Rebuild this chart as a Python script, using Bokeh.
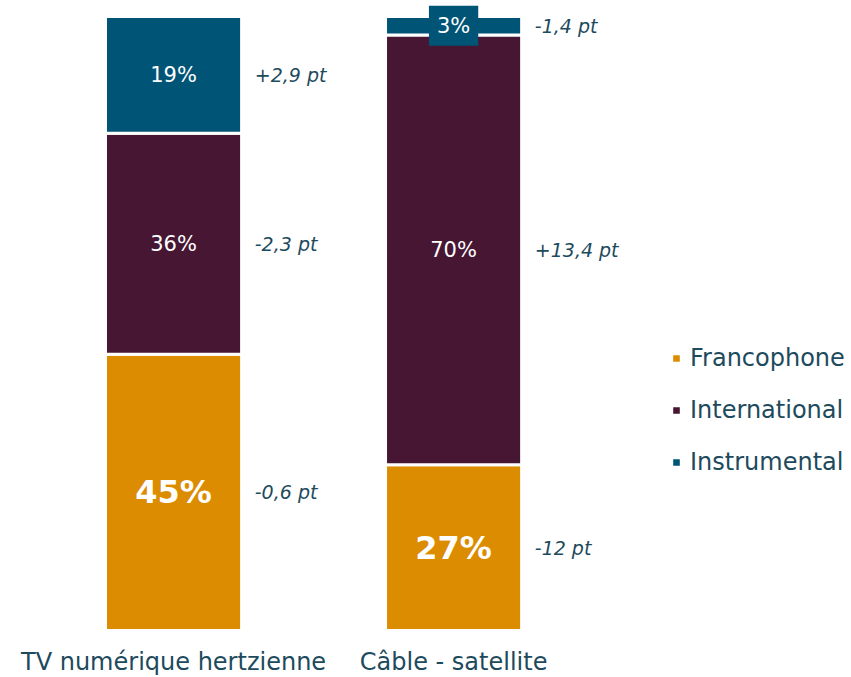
from bokeh.plotting import figure
from bokeh.models import Range1d, ColumnDataSource, Legend, LegendItem
from bokeh.core.properties import value
from bokeh.embed import file_html
from bokeh.resources import INLINE

categories = ["TV numérique hertzienne", "Câble - satellite"]
series = ["Francophone", "International", "Instrumental"]
francophone = [45, 27]
international = [36, 70]
instrumental = [19, 3]
evo_francophone = ["-0,6 pt", "-12 pt"]
evo_international = ["-2,3 pt", "+13,4 pt"]
evo_instrumental = ["+2,9 pt", "-1,4 pt"]
colors = ["#DC8C00", "#461632", "#005476"]

TEXT = "#1D4A5C"
FONT = "DejaVu Sans"

xs = list(range(len(categories)))
data = {"x": xs, "Francophone": francophone, "International": international,
        "Instrumental": instrumental}
src = ColumnDataSource(data)

p = figure(width=851, height=677, output_backend="svg", toolbar_location=None,
           x_range=Range1d(-0.618, 2.421), y_range=Range1d(-7.65, 102.61),
           min_border=0)
p.axis.visible = False
p.grid.visible = False
p.outline_line_color = None

bar_w = 0.486
rs = p.vbar_stack(series, x="x", width=bar_w, source=src, fill_color=colors,
                  line_color="white", line_width=3)

values = [francophone, international, instrumental]
evos = [evo_francophone, evo_international, evo_instrumental]

norm = dict(x=[], y=[], t=[])
bold = dict(x=[], y=[], t=[])
small = dict(x=[], y=[], t=[])
ev = dict(x=[], y=[], t=[])
for i in xs:
    base = 0
    for k, s in enumerate(series):
        v = values[k][i]
        mid = base + v / 2
        base += v
        target = bold if k == 0 else (small if v < 5 else norm)
        target["x"].append(i)
        target["y"].append(mid)
        target["t"].append(f"{v}%")
        ev["x"].append(i + 0.29)
        ev["y"].append(mid)
        ev["t"].append(evos[k][i])

p.text(x="x", y="y", text="t", source=ColumnDataSource(norm), text_align="center",
       text_baseline="middle", text_color="white", text_font=value(FONT),
       text_font_size="21px")
p.text(x="x", y="y", text="t", source=ColumnDataSource(bold), text_align="center",
       text_baseline="middle", text_color="white", text_font=value(FONT),
       text_font_size="32px", text_font_style="bold")
p.text(x="x", y="y", text="t", source=ColumnDataSource(small), text_align="center",
       text_baseline="middle", text_color="white", text_font=value(FONT),
       text_font_size="21px", background_fill_color=colors[2], padding=8)
p.text(x="x", y="y", text="t", source=ColumnDataSource(ev), text_align="left",
       text_baseline="middle", text_color=TEXT, text_font=value(FONT),
       text_font_size="19px", text_font_style="italic")

p.text(x=xs, y=[-5.2] * len(xs), text=categories, text_align="center",
       text_baseline="alphabetic", text_color=TEXT, text_font=value(FONT),
       text_font_size="24px")

legend = Legend(items=[LegendItem(label=s, renderers=[r]) for s, r in zip(series, rs)],
                location=(670, 201), orientation="vertical",
                border_line_color=None, background_fill_alpha=0,
                label_text_font=FONT, label_text_font_size="24px",
                label_text_color=TEXT, glyph_width=12, glyph_height=12,
                spacing=24, padding=0, margin=0, label_standoff=8)
p.add_layout(legend, "center")

open("out.html", "w").write(file_html(p, INLINE))
